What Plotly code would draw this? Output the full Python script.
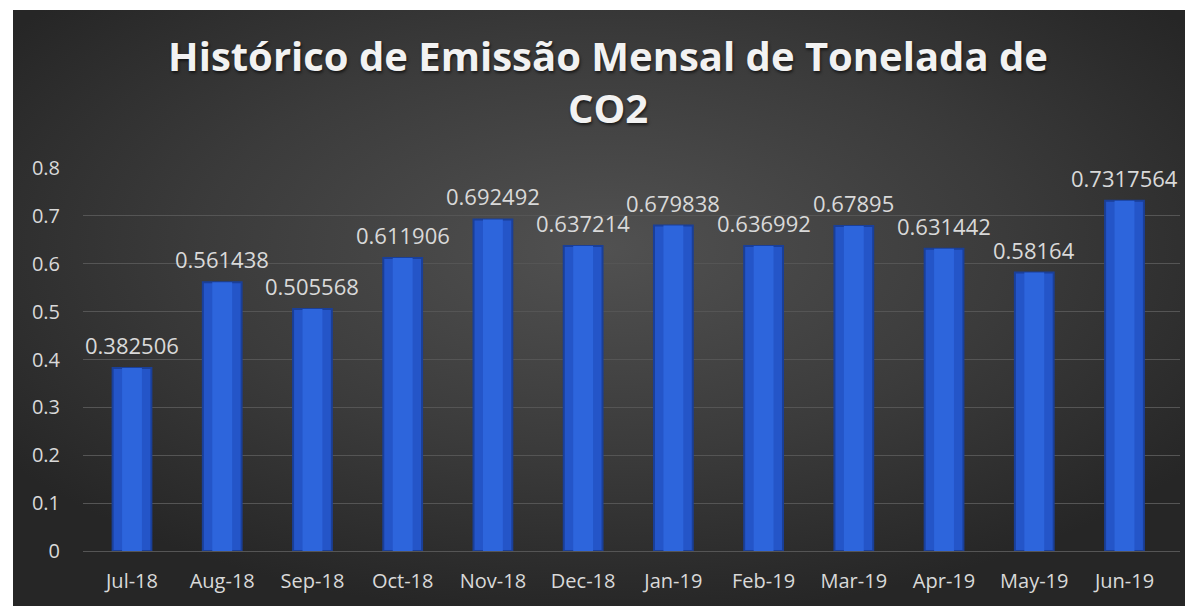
import base64
import plotly.graph_objects as go

months = ["Jul-18", "Aug-18", "Sep-18", "Oct-18", "Nov-18", "Dec-18",
          "Jan-19", "Feb-19", "Mar-19", "Apr-19", "May-19", "Jun-19"]
emissions = [0.382506, 0.561438, 0.505568, 0.611906, 0.692492, 0.637214,
             0.679838, 0.636992, 0.67895, 0.631442, 0.58164, 0.7317564]
labels = ["0.382506", "0.561438", "0.505568", "0.611906", "0.692492", "0.637214",
          "0.679838", "0.636992", "0.67895", "0.631442", "0.58164", "0.7317564"]

OFF = 8  # page body margin
W, H = 1193 - OFF, 606 - OFF
ML, MR, MT, MB = 83 - OFF, 13, 168 - OFF, 55
pw = W - ML - MR
ph = H - MT - MB

svg = ('<svg xmlns="http://www.w3.org/2000/svg" width="1180" height="596" viewBox="0 0 1180 596" preserveAspectRatio="none">'
       '<defs><radialGradient id="g" cx="50%" cy="40%" r="62%" gradientUnits="objectBoundingBox">'
       '<stop offset="0" stop-color="#515151"/><stop offset="0.55" stop-color="#3b3b3b"/>'
       '<stop offset="1" stop-color="#262626"/></radialGradient></defs>'
       '<rect x="0" y="0" width="1180" height="596" fill="url(#g)"/></svg>')
src = "data:image/svg+xml;base64," + base64.b64encode(svg.encode()).decode()

fig = go.Figure()
fig.add_trace(go.Bar(
    x=months, y=emissions, width=0.43,
    marker=dict(color="#2455c8", line=dict(color="#1a3f98", width=2)),
    hoverinfo="skip", showlegend=False,
))
fig.add_trace(go.Bar(
    x=months, y=emissions, width=0.22,
    marker=dict(color="#2d65dc", line=dict(width=0)),
    hoverinfo="skip", showlegend=False,
))

for m, v, t in zip(months, emissions, labels):
    fig.add_annotation(x=m, y=v, text=t, showarrow=False, yanchor="bottom",
                       yshift=6, font=dict(family="Open Sans", size=22, color="#d9d9d9"))

x0 = (13 - OFF - ML) / pw
x1 = (W - ML) / pw
y1 = (H - MB - (10 - OFF)) / ph
y0 = (H - MB - H) / ph
fig.add_layout_image(dict(source=src, xref="paper", yref="paper", x=x0, y=y1,
                          sizex=x1 - x0, sizey=y1 - y0, sizing="stretch",
                          xanchor="left", yanchor="top", layer="below"))

fig.update_layout(
    width=W, height=H,
    margin=dict(l=ML, r=MR, t=MT, b=MB),
    paper_bgcolor="white", plot_bgcolor="rgba(0,0,0,0)",
    barmode="overlay",
    title=dict(text="Histórico de Emissão Mensal de Tonelada de<br>CO2",
               x=(608 - OFF) / W, xref="container", xanchor="center",
               y=1 - 63 / H, yref="container", yanchor="top",
               font=dict(family="Open Sans", size=40, color="#f2f2f2", weight=700,
                         shadow="1px 2px 3px rgba(0,0,0,0.6)")),
    xaxis=dict(showgrid=False, showline=False, ticks="", ticklabelstandoff=16,
               tickfont=dict(family="Open Sans", size=20, color="#d9d9d9")),
    yaxis=dict(range=[0, 0.8], dtick=0.1, showgrid=True,
               gridcolor="#555555", gridwidth=1, zeroline=True, zerolinecolor="#555555",
               zerolinewidth=1, ticks="", ticklabelstandoff=22,
               tickfont=dict(family="Open Sans", size=20, color="#d9d9d9")),
)
fig.write_html("out.html")
